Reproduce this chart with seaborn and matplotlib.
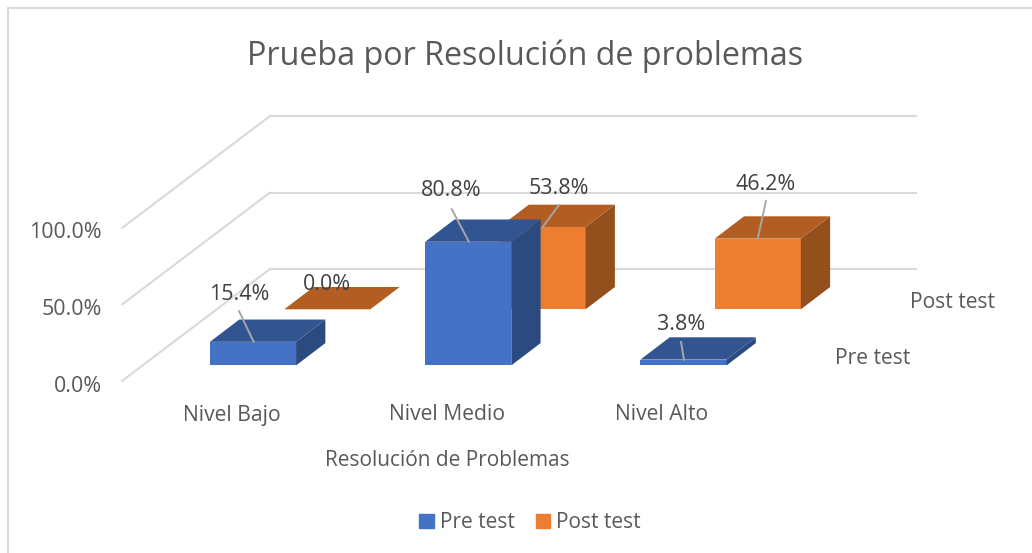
import matplotlib
matplotlib.use("Agg")
import matplotlib.pyplot as plt
import seaborn as sb
from matplotlib.patches import Patch, Polygon
from matplotlib.lines import Line2D
from matplotlib.transforms import IdentityTransform

categories = ["Nivel Bajo", "Nivel Medio", "Nivel Alto"]
pre_test = [15.4, 80.8, 3.8]
post_test = [0.0, 53.8, 46.2]
value_ticks = [0, 50, 100]
value_labels = ["0.0%", "50.0%", "100.0%"]
series_names = ["Pre test", "Post test"]

W, H = 1032, 553
DEPTH = (29.3, 22.3)
FONT = "Open Sans"
GREY = "#595959"
LINE = "#D9D9D9"


def px(x, y):
    return (x, H - y)


def make_axes(fig, left, right, base, top):
    ax = fig.add_axes([left / W, (H - base) / H, (right - left) / W, (base - top) / H])
    ax.patch.set_alpha(0)
    return ax


def bars_3d(ax, values, front, roof, side):
    sb.barplot(x=categories, y=values, color=front, saturation=1, width=0.4, linewidth=0, ax=ax)
    ax.set_xlim(-0.5, 2.5)
    ax.set_ylim(0, 100)
    ax.axis("off")
    dx, dy = DEPTH
    for bar in ax.patches[:3]:
        x0, y0 = ax.transData.transform((bar.get_x(), 0))
        x1, y1 = ax.transData.transform((bar.get_x() + bar.get_width(), bar.get_height()))
        top_face = [(x0, y1), (x1, y1), (x1 + dx, y1 + dy), (x0 + dx, y1 + dy)]
        side_face = [(x1, y0), (x1 + dx, y0 + dy), (x1 + dx, y1 + dy), (x1, y1)]
        for pts, col in ((side_face, side), (top_face, roof)):
            ax.add_patch(Polygon(pts, closed=True, facecolor=col, edgecolor="none",
                                 transform=IdentityTransform(), clip_on=False))


def label_bar(text, pos, leader=None):
    if leader is not None:
        fig.add_artist(Line2D([leader[0][0], leader[1][0]],
                              [H - leader[0][1], H - leader[1][1]],
                              color="#A6A6A6", lw=1.4, transform=IdentityTransform()))
    fig.text(*px(*pos), text, transform=IdentityTransform(), ha="center", va="center",
             fontsize=15.4, color="#404040", family=FONT)


def plain_text(text, pos, size=15.2):
    fig.text(*px(*pos), text, transform=IdentityTransform(), ha="center", va="center",
             fontsize=size, color=GREY, family=FONT)


sb.set_style("white")
plt.rcParams["font.family"] = [FONT, "DejaVu Sans"]

fig = plt.figure(figsize=(W / 100, H / 100), dpi=100, facecolor="white")

# chart frame, cropped at the right and the bottom
fig.add_artist(Line2D([7.5, 7.5], [0, H - 7.5], color=LINE, lw=1.4, transform=IdentityTransform()))
fig.add_artist(Line2D([7.5, W], [H - 7.5, H - 7.5], color=LINE, lw=1.4, transform=IdentityTransform()))

# back wall with the gridlines
wall = make_axes(fig, 270, 917, 269, 116)
wall.set_xlim(0, 1)
wall.set_ylim(0, 100)
wall.hlines(value_ticks, 0, 1, color=LINE, lw=1.5, clip_on=False)
wall.axis("off")

# left wall
for v in value_ticks:
    y = wall.transData.transform((0, v))[1]
    fig.add_artist(Line2D([122, 270], [y - 112, y], color=LINE, lw=1.5,
                          transform=IdentityTransform()))

# value axis, only the labels are visible
yaxis = make_axes(fig, 102, 112, 383.5, 230)
yaxis.set_ylim(0, 100)
yaxis.set_yticks(value_ticks, value_labels, fontsize=15.4, color=GREY, family=FONT)
yaxis.set_xticks([])
yaxis.tick_params(axis="y", length=0, pad=0)
sb.despine(ax=yaxis, left=True, bottom=True)

# rear row first, front row on top of it
ax_post = make_axes(fig, 219.7, 865.4, 309.3, 156.3)
bars_3d(ax_post, post_test, "#ED7D31", "#B25E22", "#934F1C")
ax_pre = make_axes(fig, 145.4, 791.1, 365.4, 212.4)
bars_3d(ax_pre, pre_test, "#4472C4", "#325490", "#2A4A80")

label_bar("15.4%", (239, 295), ((239, 311), (253.7, 342)))
label_bar("0.0%", (327, 284))
label_bar("80.8%", (451, 191), ((451.7, 209), (469, 242)))
label_bar("53.8%", (559, 188), ((559, 205), (542.7, 227)))
label_bar("46.2%", (766, 184), ((766, 200.7), (757.7, 239)))
label_bar("3.8%", (681, 324), ((681, 341.7), (684, 360)))

for name, x in zip(categories, (232, 447, 662)):
    plain_text(name, (x, 415))
plain_text("Pre test", (873, 358))
plain_text("Post test", (952, 302))
plain_text("Resolución de Problemas", (447, 461), 15)
plain_text("Prueba por Resolución de problemas", (525, 56), 23.2)

fig.legend(handles=[Patch(color="#4472C4", label=series_names[0]),
                    Patch(color="#ED7D31", label=series_names[1])],
           loc="center", bbox_to_anchor=(530 / W, (H - 523) / H), ncol=2, frameon=False,
           labelcolor=GREY, handlelength=0.68, handleheight=0.68,
           handletextpad=0.3, columnspacing=1.0, prop={"family": FONT, "size": 15})

fig.savefig("out.png", dpi=100)
